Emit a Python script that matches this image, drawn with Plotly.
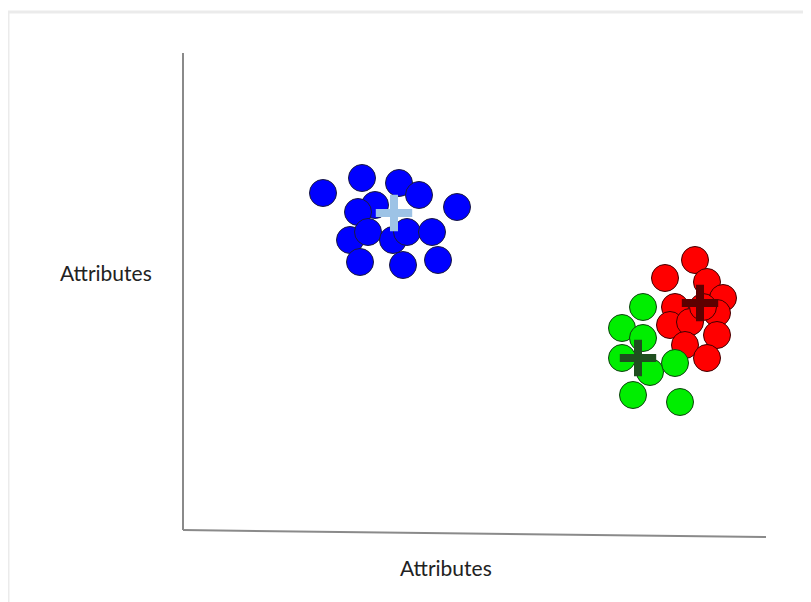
import plotly.graph_objects as go

# Data (schematic positions in plot units)
blue_x = [140, 179, 216, 236, 274, 192, 175, 167, 185, 177, 210, 224, 249, 220, 255]
blue_y = [339, 354, 349, 337, 325, 327, 320, 292, 300, 270, 292, 300, 300, 267, 272]
red_x = [512, 482, 524, 540, 492, 487, 507, 534, 534, 502, 524, 520]
red_y = [272, 254, 250, 234, 225, 207, 210, 219, 197, 187, 174, 225]
green_x = [460, 439, 460, 439, 467, 492, 450, 497]
green_y = [225, 204, 194, 174, 160, 169, 137, 130]
centroid_x = [211, 517, 455]
centroid_y = [319, 229, 174]
centroid_colors = ["#9dc3e6", "#5c0000", "#1f4e1f"]
axis_label = "Attributes"

fig = go.Figure()
fig.add_trace(go.Scatter(x=blue_x, y=blue_y, mode="markers",
                         marker=dict(color="#0000ff", size=27, line=dict(color="#1a1a40", width=1))))
fig.add_trace(go.Scatter(x=red_x, y=red_y, mode="markers",
                         marker=dict(color="#ff0000", size=27, line=dict(color="#400000", width=1))))
fig.add_trace(go.Scatter(x=green_x, y=green_y, mode="markers",
                         marker=dict(color="#00ee00", size=27, line=dict(color="#104010", width=1))))
fig.add_trace(go.Scatter(x=centroid_x, y=centroid_y, mode="markers",
                         marker=dict(symbol="cross-thin", size=26,
                                     line=dict(color=centroid_colors, width=8))))

fig.update_layout(
    width=811, height=602,
    margin=dict(l=175, r=53, t=45, b=78),
    paper_bgcolor="white", plot_bgcolor="white",
    showlegend=False,
    xaxis=dict(range=[0, 583], visible=False, fixedrange=True),
    yaxis=dict(range=[0, 479], visible=False, fixedrange=True),
    font=dict(family="Lato, sans-serif", size=21, color="#222"),
    shapes=[
        dict(type="rect", xref="paper", yref="paper",
             x0=(8 - 183) / 583, x1=1 + 60 / 583,
             y0=-(620 - 532) / 479, y1=(532 - 12) / 479,
             line=dict(color="#ebebeb", width=3), layer="below"),
        dict(type="line", xref="paper", yref="paper",
             x0=0, x1=0, y0=0.004, y1=1.0,
             line=dict(color="#8a8a8a", width=2)),
        dict(type="line", xref="paper", yref="paper",
             x0=0, x1=1, y0=0.004, y1=-0.0104,
             line=dict(color="#8a8a8a", width=2)),
    ],
    annotations=[
        dict(text=axis_label, xref="paper", yref="paper",
             x=(106 - 183) / 583, y=(532 - 272) / 479,
             xanchor="center", yanchor="middle", showarrow=False),
        dict(text=axis_label, xref="paper", yref="paper",
             x=(446 - 183) / 583, y=(532 - 567) / 479,
             xanchor="center", yanchor="middle", showarrow=False),
    ],
)

fig.write_html("out.html")
